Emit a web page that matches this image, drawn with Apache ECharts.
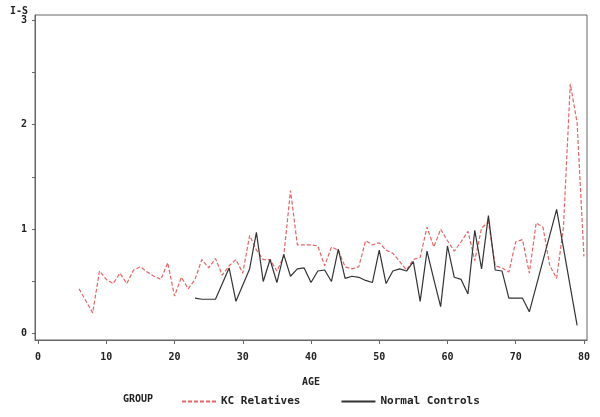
<!DOCTYPE html>
<html>
<head>
<meta charset="utf-8">
<script src="https://cdn.jsdelivr.net/npm/echarts@6/dist/echarts.min.js"></script>
<style>
  html, body { margin: 0; padding: 0; background: #fff; }
  #main { width: 600px; height: 417px; }
</style>
</head>
<body>
<div id="main"></div>
<script>
// values
const kcAges = [6, 8, 9, 10, 11, 12, 13, 14, 15, 16, 17, 18, 19, 20, 21, 22, 23, 24, 25, 26, 27, 28, 29, 30,
  31, 32, 33, 34, 35, 36, 37, 38, 39, 40, 41, 42, 43, 44, 45, 46, 47, 48, 49, 50, 51, 52, 53, 54, 55, 56,
  57, 58, 59, 60, 61, 62, 63, 64, 65, 66, 67, 68, 69, 70, 71, 72, 73, 74, 75, 76, 77, 78, 79, 80];
const kcValues = [0.43, 0.20, 0.60, 0.52, 0.48, 0.58, 0.48, 0.61, 0.64, 0.59, 0.55, 0.52, 0.68, 0.36, 0.54, 0.43, 0.52, 0.71, 0.63, 0.72, 0.56, 0.65, 0.71, 0.58,
  0.94, 0.80, 0.71, 0.71, 0.60, 0.74, 1.37, 0.85, 0.85, 0.85, 0.84, 0.65, 0.83, 0.80, 0.64, 0.62, 0.64, 0.89, 0.85, 0.87, 0.80, 0.77, 0.69, 0.61, 0.71, 0.73,
  1.02, 0.83, 1.00, 0.89, 0.79, 0.88, 0.98, 0.70, 1.01, 1.07, 0.65, 0.63, 0.59, 0.88, 0.90, 0.58, 1.06, 1.02, 0.65, 0.53, 1.02, 2.39, 2.02, 0.74];

const ncAges = [23, 24, 26, 28, 29, 31, 32, 33, 34, 35, 36, 37, 38, 39, 40, 41, 42, 43, 44, 45, 46, 47, 48, 49, 50,
  51, 52, 53, 54, 55, 56, 57, 58, 59, 60, 61, 62, 63, 64, 65, 66, 67, 68, 69, 70, 71, 72, 76, 79];
const ncValues = [0.34, 0.33, 0.33, 0.63, 0.31, 0.62, 0.97, 0.50, 0.71, 0.49, 0.76, 0.55, 0.62, 0.63, 0.49, 0.60, 0.61, 0.50, 0.81, 0.53, 0.55, 0.54, 0.51, 0.49, 0.80,
  0.48, 0.60, 0.62, 0.60, 0.69, 0.31, 0.79, 0.52, 0.26, 0.84, 0.54, 0.52, 0.38, 0.99, 0.62, 1.13, 0.61, 0.60, 0.34, 0.34, 0.34, 0.21, 1.19, 0.08];

const xTicks = [0, 10, 20, 30, 40, 50, 60, 70, 80];
const yLabels = [0, 1, 2, 3];
const yTicks = [0, 0.5, 1, 1.5, 2, 2.5, 3];

const txtFont = 'DejaVu Sans Mono';
const redColor = '#e66565';
const chart = echarts.init(document.getElementById('main'), null, { renderer: 'canvas' });

function pairs(xs, ys) {
  return xs.map((x, i) => [x, ys[i]]);
}

chart.setOption({
  animation: false,
  textStyle: { fontFamily: txtFont, color: '#222' },
  grid: {
    left: 35, right: 13, top: 15, bottom: 77,
    show: true, borderColor: '#666', borderWidth: 1
  },
  graphic: [
    { type: 'text', left: 10, top: 6, style: { text: 'I-S', font: 'bold 10px ' + txtFont, fill: '#222' } },
    { type: 'text', left: 123, top: 394, style: { text: 'GROUP', font: 'bold 10px ' + txtFont, fill: '#222' } }
  ],
  legend: {
    left: 176, top: 391,
    itemWidth: 34, itemHeight: 10, itemGap: 40,
    itemStyle: { opacity: 0 },
    textStyle: { fontFamily: txtFont, fontSize: 11, fontWeight: 'bold', color: '#222' },
    data: ['KC Relatives', 'Normal Controls']
  },
  xAxis: {
    type: 'value', min: -0.45, max: 80.45,
    name: 'AGE', nameLocation: 'middle', nameGap: 37,
    nameTextStyle: { fontFamily: txtFont, fontSize: 10, fontWeight: 'bold', color: '#222' },
    axisLine: { show: true, onZero: false, lineStyle: { color: '#666' } },
    axisTick: { show: true, length: 4, customValues: xTicks, lineStyle: { color: '#666' } },
    axisLabel: { customValues: xTicks, margin: 12, fontSize: 10, fontWeight: 'bold', color: '#222' },
    splitLine: { show: false }
  },
  yAxis: {
    type: 'value', min: -0.06, max: 3.05,
    axisLine: { show: true, onZero: false, lineStyle: { color: '#666' } },
    axisTick: { show: true, length: 3, customValues: yTicks, lineStyle: { color: '#666' } },
    axisLabel: { customValues: yLabels, margin: 8, fontSize: 10, fontWeight: 'bold', color: '#222' },
    splitLine: { show: false }
  },
  series: [
    {
      name: 'KC Relatives', type: 'line', symbol: 'none',
      color: redColor,
      lineStyle: { color: redColor, width: 1.2, type: [4, 2] },
      data: pairs(kcAges, kcValues)
    },
    {
      name: 'Normal Controls', type: 'line', symbol: 'none',
      color: '#333',
      lineStyle: { color: '#333', width: 1.2 },
      data: pairs(ncAges, ncValues)
    }
  ]
});
</script>
</body>
</html>
